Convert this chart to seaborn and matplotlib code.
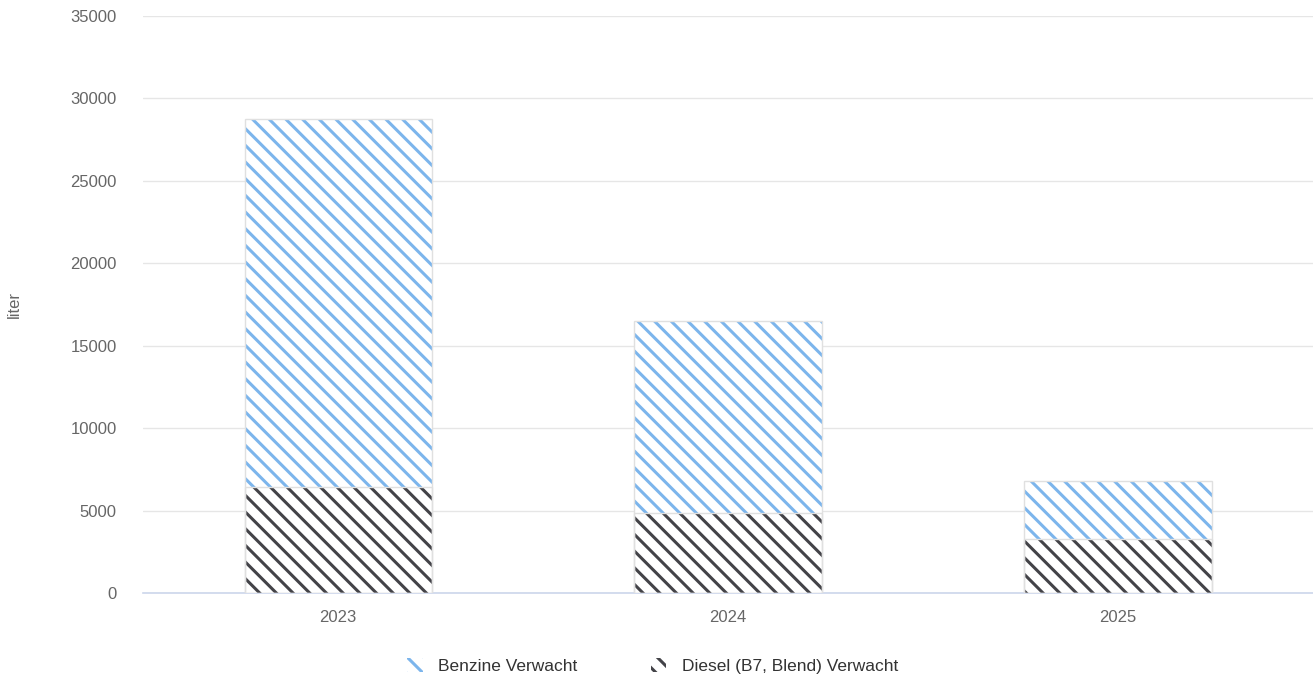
import matplotlib
matplotlib.use("Agg")
import matplotlib.pyplot as plt
import seaborn as sns
import pandas as pd
from matplotlib.patches import Patch

# data
years = ["2023", "2024", "2025"]
diesel = [6430, 4850, 3300]
benzine = [22320, 11650, 3500]
series_names = ["Benzine Verwacht", "Diesel (B7, Blend) Verwacht"]
y_ticks = [0, 5000, 10000, 15000, 20000, 25000, 30000, 35000]

blue = "#7cb5ec"
dark = "#434348"
hatch = "\\\\"

sns.set_theme(style="white")
plt.rcParams["font.family"] = ["Liberation Sans", "DejaVu Sans"]
plt.rcParams["hatch.linewidth"] = 2.2

df = pd.DataFrame({"year": years, "diesel": diesel, "benzine": benzine})
df["total"] = df["diesel"] + df["benzine"]

fig = plt.figure(figsize=(13.13, 6.81), dpi=100)
ax = fig.add_axes([0.109, 0.1292, 0.891, 0.8473])

# stacked: draw totals (benzine) first, then diesel over the bottom part
sns.barplot(data=df, x="year", y="total", ax=ax, width=0.48,
            color="white", edgecolor=blue, linewidth=0, zorder=2)
n = len(ax.patches)
sns.barplot(data=df, x="year", y="diesel", ax=ax, width=0.48,
            color="white", edgecolor=dark, linewidth=0, zorder=3)
for i, p in enumerate(list(ax.patches)):
    p.set_hatch(hatch)
    p.set_facecolor("white")
    p.set_edgecolor(blue if i < n else dark)
    p.set_linewidth(0)
    ax.add_patch(plt.Rectangle((p.get_x(), p.get_y()), p.get_width(), p.get_height(),
                               fill=False, edgecolor="#e0e0e0", linewidth=1.0, zorder=4))

ax.set_xlim(-0.5, 2.5)
ax.set_ylim(0, 35000)
ax.set_yticks(y_ticks)
ax.set_yticklabels([str(t) for t in y_ticks])
ax.yaxis.grid(True, color="#e6e6e6", linewidth=1)
ax.set_axisbelow(True)
for s in ["top", "right", "left"]:
    ax.spines[s].set_visible(False)
ax.spines["bottom"].set_color("#ccd6eb")
ax.spines["bottom"].set_linewidth(1.2)
ax.tick_params(axis="y", length=0, pad=19, labelsize=12, labelcolor="#666666")
ax.tick_params(axis="x", length=0, pad=12, labelsize=12, labelcolor="#666666")
ax.set_xlabel("")
ax.set_ylabel("liter", color="#666666", fontsize=12)
ax.yaxis.set_label_coords(-0.104, 0.5)

handles = [Patch(facecolor="white", edgecolor=blue, hatch=hatch, linewidth=0),
           Patch(facecolor="white", edgecolor=dark, hatch=hatch, linewidth=0)]
fig.legend(handles, series_names, loc="center", bbox_to_anchor=(0.497, 0.022),
           ncol=2, frameon=False, fontsize=12.5, labelcolor="#333333",
           handlelength=0.9, handleheight=0.9, columnspacing=4.2, handletextpad=0.9)

fig.savefig("out.png", dpi=100)
